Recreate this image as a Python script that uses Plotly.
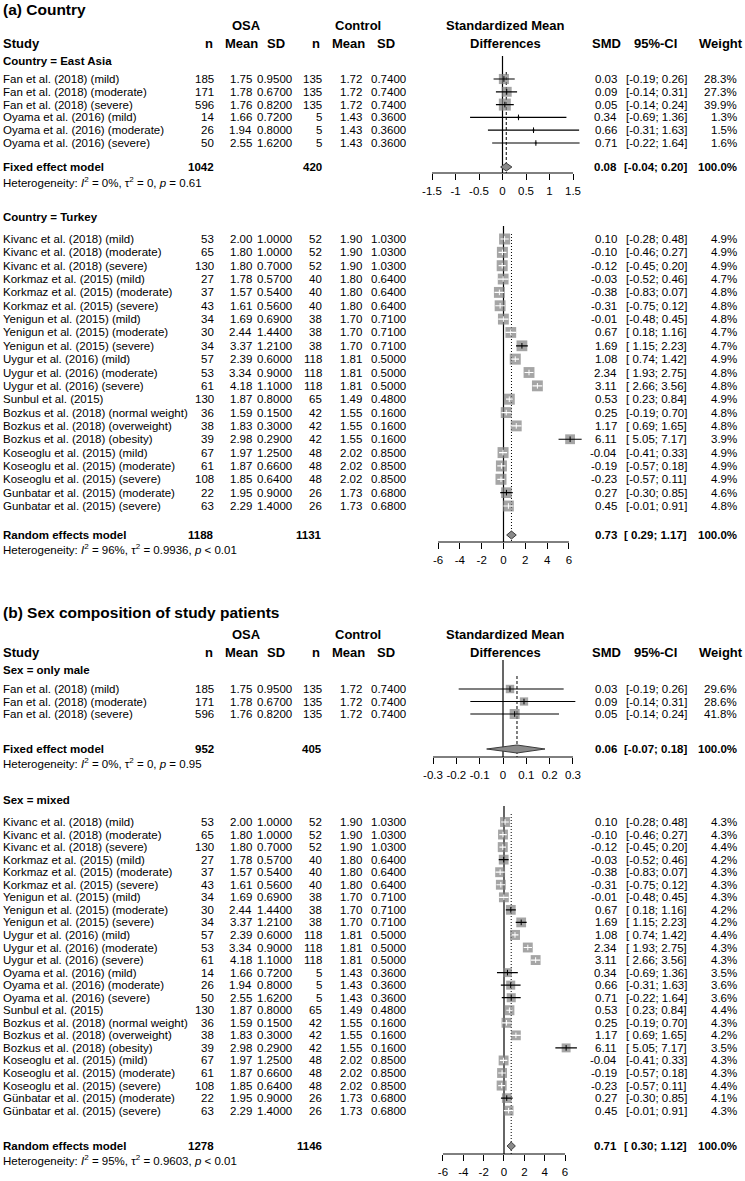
import plotly.graph_objects as go

W, H = 745, 1181
FONT = "Liberation Sans, Arial, Helvetica, sans-serif"
FS = 11.5
FS_HEAD = 13
FS_TITLE = 15.5

# ======================= DATA =======================
# ---- (a) Country = East Asia
ea_study = ["Fan et al. (2018) (mild)", "Fan et al. (2018) (moderate)", "Fan et al. (2018) (severe)",
            "Oyama et al. (2016) (mild)", "Oyama et al. (2016) (moderate)", "Oyama et al. (2016) (severe)"]
ea_n1 = [185, 171, 596, 14, 26, 50]
ea_m1 = [1.75, 1.78, 1.76, 1.66, 1.94, 2.55]
ea_s1 = [0.95, 0.67, 0.82, 0.72, 0.80, 1.62]
ea_n2 = [135, 135, 135, 5, 5, 5]
ea_m2 = [1.72, 1.72, 1.72, 1.43, 1.43, 1.43]
ea_s2 = [0.74, 0.74, 0.74, 0.36, 0.36, 0.36]
ea_smd = [0.03, 0.09, 0.05, 0.34, 0.66, 0.71]
ea_lo = [-0.19, -0.14, -0.14, -0.69, -0.31, -0.22]
ea_hi = [0.26, 0.31, 0.24, 1.36, 1.63, 1.64]
ea_wt = [28.3, 27.3, 39.9, 1.3, 1.5, 1.6]
ea_total = [1042, 420]
ea_summary = [0.08, -0.04, 0.20]
ea_het = "Heterogeneity: <i>I</i><sup>2</sup> = 0%, τ<sup>2</sup> = 0, <i>p</i> = 0.61"

# ---- (a) Country = Turkey
tr_study = ["Kivanc et al. (2018) (mild)", "Kivanc et al. (2018) (moderate)", "Kivanc et al. (2018) (severe)",
            "Korkmaz et al. (2015) (mild)", "Korkmaz et al. (2015) (moderate)", "Korkmaz et al. (2015) (severe)",
            "Yenigun et al. (2015) (mild)", "Yenigun et al. (2015) (moderate)", "Yenigun et al. (2015) (severe)",
            "Uygur et al. (2016) (mild)", "Uygur et al. (2016) (moderate)", "Uygur et al. (2016) (severe)",
            "Sunbul et al. (2015)",
            "Bozkus et al. (2018) (normal weight)", "Bozkus et al. (2018) (overweight)", "Bozkus et al. (2018) (obesity)",
            "Koseoglu et al. (2015) (mild)", "Koseoglu et al. (2015) (moderate)", "Koseoglu et al. (2015) (severe)",
            "Gunbatar et al. (2015) (moderate)", "Gunbatar et al. (2015) (severe)"]
tr_n1 = [53, 65, 130, 27, 37, 43, 34, 30, 34, 57, 53, 61, 130, 36, 38, 39, 67, 61, 108, 22, 63]
tr_m1 = [2.00, 1.80, 1.80, 1.78, 1.57, 1.61, 1.69, 2.44, 3.37, 2.39, 3.34, 4.18, 1.87, 1.59, 1.83, 2.98, 1.97, 1.87, 1.85, 1.95, 2.29]
tr_s1 = [1.00, 1.00, 0.70, 0.57, 0.54, 0.56, 0.69, 1.44, 1.21, 0.60, 0.90, 1.10, 0.80, 0.15, 0.30, 0.29, 1.25, 0.66, 0.64, 0.90, 1.40]
tr_n2 = [52, 52, 52, 40, 40, 40, 38, 38, 38, 118, 118, 118, 65, 42, 42, 42, 48, 48, 48, 26, 26]
tr_m2 = [1.90, 1.90, 1.90, 1.80, 1.80, 1.80, 1.70, 1.70, 1.70, 1.81, 1.81, 1.81, 1.49, 1.55, 1.55, 1.55, 2.02, 2.02, 2.02, 1.73, 1.73]
tr_s2 = [1.03, 1.03, 1.03, 0.64, 0.64, 0.64, 0.71, 0.71, 0.71, 0.50, 0.50, 0.50, 0.48, 0.16, 0.16, 0.16, 0.85, 0.85, 0.85, 0.68, 0.68]
tr_smd = [0.10, -0.10, -0.12, -0.03, -0.38, -0.31, -0.01, 0.67, 1.69, 1.08, 2.34, 3.11, 0.53, 0.25, 1.17, 6.11, -0.04, -0.19, -0.23, 0.27, 0.45]
tr_lo = [-0.28, -0.46, -0.45, -0.52, -0.83, -0.75, -0.48, 0.18, 1.15, 0.74, 1.93, 2.66, 0.23, -0.19, 0.69, 5.05, -0.41, -0.57, -0.57, -0.30, -0.01]
tr_hi = [0.48, 0.27, 0.20, 0.46, 0.07, 0.12, 0.45, 1.16, 2.23, 1.42, 2.75, 3.56, 0.84, 0.70, 1.65, 7.17, 0.33, 0.18, 0.11, 0.85, 0.91]
tr_wt = [4.9, 4.9, 4.9, 4.7, 4.8, 4.8, 4.8, 4.7, 4.7, 4.9, 4.8, 4.8, 4.9, 4.8, 4.8, 3.9, 4.9, 4.9, 4.9, 4.6, 4.8]
tr_total = [1188, 1131]
tr_summary = [0.73, 0.29, 1.17]
tr_het = "Heterogeneity: <i>I</i><sup>2</sup> = 96%, τ<sup>2</sup> = 0.9936, <i>p</i> < 0.01"

# ---- (b) Sex = only male
ml_study = ["Fan et al. (2018) (mild)", "Fan et al. (2018) (moderate)", "Fan et al. (2018) (severe)"]
ml_n1 = [185, 171, 596]
ml_m1 = [1.75, 1.78, 1.76]
ml_s1 = [0.95, 0.67, 0.82]
ml_n2 = [135, 135, 135]
ml_m2 = [1.72, 1.72, 1.72]
ml_s2 = [0.74, 0.74, 0.74]
ml_smd = [0.03, 0.09, 0.05]
ml_lo = [-0.19, -0.14, -0.14]
ml_hi = [0.26, 0.31, 0.24]
ml_wt = [29.6, 28.6, 41.8]
ml_total = [952, 405]
ml_summary = [0.06, -0.07, 0.18]
ml_het = "Heterogeneity: <i>I</i><sup>2</sup> = 0%, τ<sup>2</sup> = 0, <i>p</i> = 0.95"

# ---- (b) Sex = mixed
mx_study = ["Kivanc et al. (2018) (mild)", "Kivanc et al. (2018) (moderate)", "Kivanc et al. (2018) (severe)",
            "Korkmaz et al. (2015) (mild)", "Korkmaz et al. (2015) (moderate)", "Korkmaz et al. (2015) (severe)",
            "Yenigun et al. (2015) (mild)", "Yenigun et al. (2015) (moderate)", "Yenigun et al. (2015) (severe)",
            "Uygur et al. (2016) (mild)", "Uygur et al. (2016) (moderate)", "Uygur et al. (2016) (severe)",
            "Oyama et al. (2016) (mild)", "Oyama et al. (2016) (moderate)", "Oyama et al. (2016) (severe)",
            "Sunbul et al. (2015)",
            "Bozkus et al. (2018) (normal weight)", "Bozkus et al. (2018) (overweight)", "Bozkus et al. (2018) (obesity)",
            "Koseoglu et al. (2015) (mild)", "Koseoglu et al. (2015) (moderate)", "Koseoglu et al. (2015) (severe)",
            "Günbatar et al. (2015) (moderate)", "Günbatar et al. (2015) (severe)"]
mx_n1 = [53, 65, 130, 27, 37, 43, 34, 30, 34, 57, 53, 61, 14, 26, 50, 130, 36, 38, 39, 67, 61, 108, 22, 63]
mx_m1 = [2.00, 1.80, 1.80, 1.78, 1.57, 1.61, 1.69, 2.44, 3.37, 2.39, 3.34, 4.18, 1.66, 1.94, 2.55, 1.87, 1.59, 1.83, 2.98, 1.97, 1.87, 1.85, 1.95, 2.29]
mx_s1 = [1.00, 1.00, 0.70, 0.57, 0.54, 0.56, 0.69, 1.44, 1.21, 0.60, 0.90, 1.10, 0.72, 0.80, 1.62, 0.80, 0.15, 0.30, 0.29, 1.25, 0.66, 0.64, 0.90, 1.40]
mx_n2 = [52, 52, 52, 40, 40, 40, 38, 38, 38, 118, 118, 118, 5, 5, 5, 65, 42, 42, 42, 48, 48, 48, 26, 26]
mx_m2 = [1.90, 1.90, 1.90, 1.80, 1.80, 1.80, 1.70, 1.70, 1.70, 1.81, 1.81, 1.81, 1.43, 1.43, 1.43, 1.49, 1.55, 1.55, 1.55, 2.02, 2.02, 2.02, 1.73, 1.73]
mx_s2 = [1.03, 1.03, 1.03, 0.64, 0.64, 0.64, 0.71, 0.71, 0.71, 0.50, 0.50, 0.50, 0.36, 0.36, 0.36, 0.48, 0.16, 0.16, 0.16, 0.85, 0.85, 0.85, 0.68, 0.68]
mx_smd = [0.10, -0.10, -0.12, -0.03, -0.38, -0.31, -0.01, 0.67, 1.69, 1.08, 2.34, 3.11, 0.34, 0.66, 0.71, 0.53, 0.25, 1.17, 6.11, -0.04, -0.19, -0.23, 0.27, 0.45]
mx_lo = [-0.28, -0.46, -0.45, -0.52, -0.83, -0.75, -0.48, 0.18, 1.15, 0.74, 1.93, 2.66, -0.69, -0.31, -0.22, 0.23, -0.19, 0.69, 5.05, -0.41, -0.57, -0.57, -0.30, -0.01]
mx_hi = [0.48, 0.27, 0.20, 0.46, 0.07, 0.12, 0.45, 1.16, 2.23, 1.42, 2.75, 3.56, 1.36, 1.63, 1.64, 0.84, 0.70, 1.65, 7.17, 0.33, 0.18, 0.11, 0.85, 0.91]
mx_wt = [4.3, 4.3, 4.4, 4.2, 4.3, 4.3, 4.3, 4.2, 4.2, 4.4, 4.3, 4.3, 3.5, 3.6, 3.6, 4.4, 4.3, 4.2, 3.5, 4.3, 4.3, 4.4, 4.1, 4.3]
mx_total = [1278, 1146]
mx_summary = [0.71, 0.30, 1.12]
mx_het = "Heterogeneity: <i>I</i><sup>2</sup> = 95%, τ<sup>2</sup> = 0.9603, <i>p</i> < 0.01"

# tick labels
ticks_a1 = [-1.5, -1, -0.5, 0, 0.5, 1, 1.5]
ticktext_a1 = ["-1.5", "-1", "-0.5", "0", "0.5", "1", "1.5"]
ticks_6 = [-6, -4, -2, 0, 2, 4, 6]
ticktext_6 = ["-6", "-4", "-2", "0", "2", "4", "6"]
ticks_b1 = [-0.3, -0.2, -0.1, 0, 0.1, 0.2, 0.3]
ticktext_b1 = ["-0.3", "-0.2", "-0.1", "0", "0.1", "0.2", "0.3"]

# ======================= LAYOUT CONSTANTS (pixels) =======================
X_LABEL = 2
C_N1, C_M1, C_S1 = 215, 253, 293
C_N2, C_M2, C_S2 = 323, 363, 407
C_SMD, C_CI, C_W = 618, 688, 738

SQ_COLOR = "#7f7f7f"
DM_FILL = "#8a8a8a"
DM_LINE = "#3c3c3c"

fig = go.Figure()
ANN = []


def txt(x, y, s, anchor="right", size=FS, bold=False):
    if bold:
        s = "<b>" + s + "</b>"
    ANN.append(dict(x=x, y=y, xref="x", yref="y", text=s, showarrow=False,
                    xanchor=anchor, yanchor="middle", borderpad=0,
                    font=dict(family=FONT, size=size, color="black")))


def ci_str(lo, hi):
    los = f"{lo:.2f}" if lo < 0 else " " + f"{lo:.2f}"
    return f"[{los}; {hi:.2f}]"


def header(y1, y2):
    txt(246, y1, "OSA", "center", FS_HEAD, True)
    txt(358, y1, "Control", "center", FS_HEAD, True)
    txt(505, y1, "Standardized Mean", "center", FS_HEAD, True)
    txt(X_LABEL, y2, "Study", "left", FS_HEAD, True)
    txt(214, y2, "n", "right", FS_HEAD, True)
    txt(241, y2, "Mean", "center", FS_HEAD, True)
    txt(276, y2, "SD", "center", FS_HEAD, True)
    txt(321, y2, "n", "right", FS_HEAD, True)
    txt(348, y2, "Mean", "center", FS_HEAD, True)
    txt(386, y2, "SD", "center", FS_HEAD, True)
    txt(505, y2, "Differences", "center", FS_HEAD, True)
    txt(606, y2, "SMD", "center", FS_HEAD, True)
    txt(655, y2, "95%-CI", "center", FS_HEAD, True)
    txt(721, y2, "Weight", "center", FS_HEAD, True)


axis_defs = {}


def panel(xa, cfg, study, n1, m1, s1, n2, m2, s2, smd, lo, hi, wt, total, summ, het):
    zero_px, scale, rng = cfg["zero"], cfg["scale"], cfg["range"]
    dom = [(zero_px + rng[0] * scale) / W, (zero_px + rng[1] * scale) / W]
    axis_y = cfg["axis_y"]
    axis_defs[xa] = dict(domain=dom, range=rng, anchor="free", position=1 - axis_y / H,
                         showline=False, showgrid=False, zeroline=False,
                         ticks="outside", ticklen=6, tickwidth=1, tickcolor="black",
                         tickvals=cfg["ticks"], ticktext=cfg["ticktext"], ticklabelstandoff=1,
                         tickfont=dict(family=FONT, size=FS, color="black"), fixedrange=True)
    ys = [cfg["row0"] + i * cfg["dy"] for i in range(len(study))]
    # ---- text
    txt(X_LABEL, cfg["grp_y"], cfg["group"], "left", FS, True)
    for i, y in enumerate(ys):
        txt(X_LABEL, y, study[i], "left")
        txt(C_N1, y, str(n1[i]))
        txt(C_M1, y, f"{m1[i]:.2f}")
        txt(C_S1, y, f"{s1[i]:.4f}")
        txt(C_N2, y, str(n2[i]))
        txt(C_M2, y, f"{m2[i]:.2f}")
        txt(C_S2, y, f"{s2[i]:.4f}")
        txt(C_SMD, y, f"{smd[i]:.2f}")
        txt(C_CI, y, ci_str(lo[i], hi[i]))
        txt(C_W, y, f"{wt[i]:.1f}%")
    sy = cfg["sum_y"]
    txt(X_LABEL, sy, cfg["model"], "left", FS, True)
    txt(C_N1, sy, str(total[0]), "right", FS, True)
    txt(C_N2, sy, str(total[1]), "right", FS, True)
    txt(C_SMD, sy, f"{summ[0]:.2f}", "right", FS, True)
    txt(C_CI, sy, ci_str(summ[1], summ[2]), "right", FS, True)
    txt(C_W, sy, "100.0%", "right", FS, True)
    txt(X_LABEL, cfg["het_y"], het, "left", FS)

    # ---- reference lines (below marks)
    fig.add_trace(go.Scatter(x=[0, 0], y=[cfg["zero_top"], axis_y], mode="lines",
                             line=dict(color="black", width=1.2), xaxis=xa, yaxis="y",
                             hoverinfo="skip", showlegend=False))
    fig.add_trace(go.Scatter(x=[summ[0], summ[0]], y=[cfg["ref_top"], axis_y], mode="lines",
                             line=dict(color="black", width=1, dash=cfg["dash"]), xaxis=xa, yaxis="y",
                             hoverinfo="skip", showlegend=False))
    # axis line spanning tick range
    fig.add_trace(go.Scatter(x=[cfg["ticks"][0], cfg["ticks"][-1]], y=[axis_y, axis_y], mode="lines",
                             line=dict(color="black", width=1), xaxis=xa, yaxis="y",
                             hoverinfo="skip", showlegend=False))
    # ---- squares
    wmax = max(wt)
    sizes = [cfg["smax"] * (w / wmax) ** 0.5 for w in wt]
    fig.add_trace(go.Scatter(x=smd, y=ys, mode="markers",
                             marker=dict(symbol="square", size=sizes, color=SQ_COLOR, line=dict(width=0)),
                             xaxis=xa, yaxis="y", cliponaxis=False, hoverinfo="skip", showlegend=False))
    # ---- CI lines: white if inside the square, else black
    for col in ("black", "white"):
        xs, yy, px, py = [], [], [], []
        for i in range(len(smd)):
            inside = (hi[i] - lo[i]) * scale <= sizes[i]
            if (col == "white") != inside:
                continue
            xs += [lo[i], hi[i], None]
            yy += [ys[i], ys[i], None]
            px.append(smd[i])
            py.append(ys[i])
        if not px:
            continue
        fig.add_trace(go.Scatter(x=xs, y=yy, mode="lines", line=dict(color=col, width=1.2),
                                 xaxis=xa, yaxis="y", hoverinfo="skip", showlegend=False))
        fig.add_trace(go.Scatter(x=px, y=py, mode="markers",
                                 marker=dict(symbol="line-ns", size=4, line=dict(color=col, width=1)),
                                 xaxis=xa, yaxis="y", cliponaxis=False, hoverinfo="skip", showlegend=False))
    # ---- diamond
    hd = cfg["dh"]
    fig.add_trace(go.Scatter(x=[summ[1], summ[0], summ[2], summ[0], summ[1]],
                             y=[sy, sy - hd, sy, sy + hd, sy], mode="lines", fill="toself",
                             fillcolor=DM_FILL, line=dict(color=DM_LINE, width=1),
                             xaxis=xa, yaxis="y", hoverinfo="skip", showlegend=False))


# ----- titles & headers
txt(X_LABEL, 9, "(a) Country", "left", FS_TITLE, True)
header(25, 43)
txt(X_LABEL, 612, "(b) Sex composition of study patients", "left", FS_TITLE, True)
header(634, 652)

cfg_a1 = dict(zero=502.5, scale=47.0, range=[-1.75, 1.75], ticks=ticks_a1, ticktext=ticktext_a1,
              axis_y=173, grp_y=61, group="Country = East Asia", row0=79, dy=12.8,
              sum_y=167, het_y=182, model="Fixed effect model", zero_top=56, ref_top=72,
              dash="3px,2px", smax=12, dh=4)
cfg_a2 = dict(zero=503.5, scale=10.9, range=[-7.6, 7.6], ticks=ticks_6, ticktext=ticktext_6,
              axis_y=542, grp_y=217, group="Country = Turkey", row0=239, dy=13.35,
              sum_y=535, het_y=549, model="Random effects model", zero_top=226, ref_top=234,
              dash="1px,2px", smax=11, dh=4)
cfg_b1 = dict(zero=503.0, scale=233.3, range=[-0.35, 0.35], ticks=ticks_b1, ticktext=ticktext_b1,
              axis_y=757, grp_y=670, group="Sex = only male", row0=689, dy=12.5,
              sum_y=749, het_y=763, model="Fixed effect model", zero_top=660, ref_top=676,
              dash="3px,2px", smax=10, dh=4)
cfg_b2 = dict(zero=504.0, scale=10.17, range=[-7.6, 7.6], ticks=ticks_6, ticktext=ticktext_6,
              axis_y=1154, grp_y=800, group="Sex = mixed", row0=822, dy=12.55,
              sum_y=1146, het_y=1160, model="Random effects model", zero_top=806, ref_top=814,
              dash="1px,2px", smax=10, dh=4)

panel("x2", cfg_a1, ea_study, ea_n1, ea_m1, ea_s1, ea_n2, ea_m2, ea_s2, ea_smd, ea_lo, ea_hi, ea_wt,
      ea_total, ea_summary, ea_het)
panel("x3", cfg_a2, tr_study, tr_n1, tr_m1, tr_s1, tr_n2, tr_m2, tr_s2, tr_smd, tr_lo, tr_hi, tr_wt,
      tr_total, tr_summary, tr_het)
panel("x4", cfg_b1, ml_study, ml_n1, ml_m1, ml_s1, ml_n2, ml_m2, ml_s2, ml_smd, ml_lo, ml_hi, ml_wt,
      ml_total, ml_summary, ml_het)
panel("x5", cfg_b2, mx_study, mx_n1, mx_m1, mx_s1, mx_n2, mx_m2, mx_s2, mx_smd, mx_lo, mx_hi, mx_wt,
      mx_total, mx_summary, mx_het)

# invisible trace on the page-pixel axes used for text placement
fig.add_trace(go.Scatter(x=[0, W], y=[0, H], mode="markers", marker=dict(opacity=0),
                         xaxis="x", yaxis="y", hoverinfo="skip", showlegend=False))

layout = dict(
    width=W, height=H, margin=dict(l=0, r=0, t=0, b=0),
    paper_bgcolor="white", plot_bgcolor="rgba(0,0,0,0)",
    showlegend=False,
    xaxis=dict(domain=[0, 1], range=[0, W], visible=False, fixedrange=True),
    yaxis=dict(domain=[0, 1], range=[H, 0], visible=False, fixedrange=True),
    annotations=ANN,
    font=dict(family=FONT, size=FS, color="black"),
)
for k, v in axis_defs.items():
    layout["xaxis" + k[1:]] = v
fig.update_layout(**layout)

fig.write_html("out.html", config={"displayModeBar": False, "staticPlot": True},
               post_script="document.body.style.margin='0px';document.body.style.padding='0px';")
